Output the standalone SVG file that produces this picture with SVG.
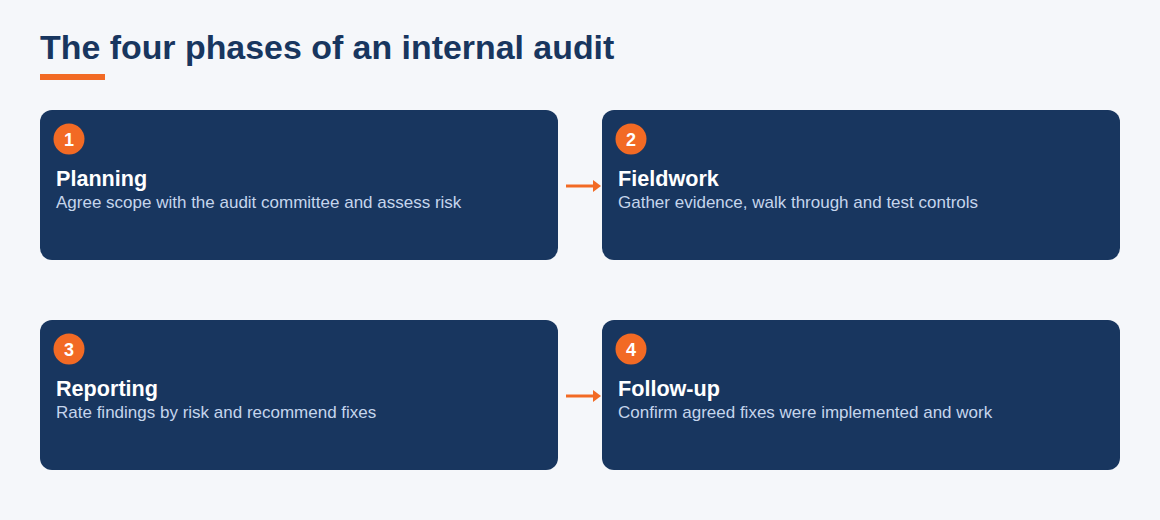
<svg xmlns="http://www.w3.org/2000/svg" width="1160" height="520" viewBox="0 0 1160 520">
<style>
.card{fill:#18365f}
.badge{fill:#f26a24}
.num{font-family:"Liberation Sans",Arial,sans-serif;font-weight:bold;font-size:18px;fill:#ffffff;text-anchor:middle}
.h{font-family:"Liberation Sans",Arial,sans-serif;font-weight:bold;font-size:21.6px;fill:#ffffff}
.d{font-family:"Liberation Sans",Arial,sans-serif;font-size:17px;fill:#c5d5ec}
.conn{stroke:#f26a24;stroke-width:3;fill:none}
</style>
<defs>
<marker id="ah" markerWidth="12" markerHeight="12" refX="2" refY="6" orient="auto" markerUnits="userSpaceOnUse">
<path d="M0,0 L8,6 L0,12 Z" fill="#f26a24"/>
</marker>
</defs>
<rect width="1160" height="520" fill="#f5f7fa"/>
<text x="40" y="59" font-family="'Liberation Sans',Arial,sans-serif" font-weight="bold" font-size="33.9" fill="#18365f">The four phases of an internal audit</text>
<rect x="40" y="74" width="65" height="6" fill="#f26a24"/>
<g id="node1">
<rect class="card" x="40" y="110" width="518" height="150" rx="12"/>
<circle class="badge" cx="69" cy="139" r="15.5"/>
<text class="num" x="69" y="145.5">1</text>
<text class="h" x="56" y="186">Planning</text>
<text class="d" x="56" y="208">Agree scope with the audit committee and assess risk</text>
</g>
<g id="node2">
<rect class="card" x="602" y="110" width="518" height="150" rx="12"/>
<circle class="badge" cx="631" cy="139" r="15.5"/>
<text class="num" x="631" y="145.5">2</text>
<text class="h" x="618" y="186">Fieldwork</text>
<text class="d" x="618" y="208">Gather evidence, walk through and test controls</text>
</g>
<g id="node3">
<rect class="card" x="40" y="320" width="518" height="150" rx="12"/>
<circle class="badge" cx="69" cy="349" r="15.5"/>
<text class="num" x="69" y="355.5">3</text>
<text class="h" x="56" y="396">Reporting</text>
<text class="d" x="56" y="418">Rate findings by risk and recommend fixes</text>
</g>
<g id="node4">
<rect class="card" x="602" y="320" width="518" height="150" rx="12"/>
<circle class="badge" cx="631" cy="349" r="15.5"/>
<text class="num" x="631" y="355.5">4</text>
<text class="h" x="618" y="396">Follow-up</text>
<text class="d" x="618" y="418">Confirm agreed fixes were implemented and work</text>
</g>
<g id="connectors">
<line class="conn" x1="566" y1="186" x2="595" y2="186" marker-end="url(#ah)"/>
<line class="conn" x1="566" y1="396" x2="595" y2="396" marker-end="url(#ah)"/>
</g>
</svg>
